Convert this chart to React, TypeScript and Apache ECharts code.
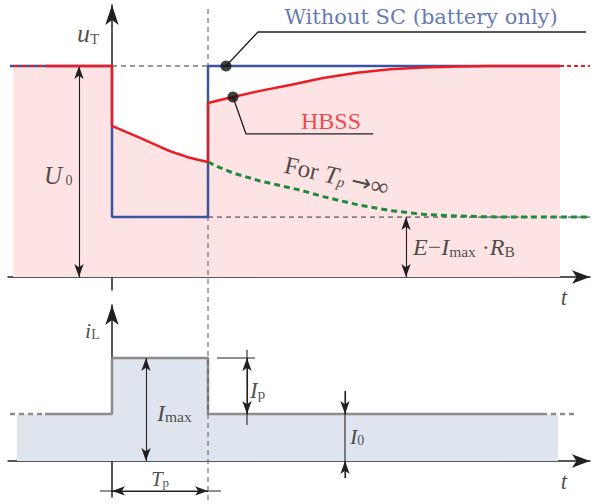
import React, { useEffect, useRef } from "react";
import * as echarts from "echarts";

// Axis extents (time in units of the pulse length Tp, voltage in U0, current in Imax)
const X_MIN = -1.0833;
const X_MAX = 4.979;
const U_MIN = -0.0616;
const U_MAX = 1.289;
const I_MIN = -0.35;
const I_MAX_AXIS = 1.515;

// Terminal voltage, battery only
const BLUE_DASH: number[][] = [[-1.0625, 1], [-0.698, 1]];
const BLUE_SOLID: number[][] = [[-0.698, 1], [0, 1], [0, 0.284], [1, 0.284], [1, 1], [4.667, 1]];

// Terminal voltage, hybrid battery / supercapacitor system
const RED_DASH_L: number[][] = [[-1.0625, 1], [-0.698, 1]];
const RED_DASH_R: number[][] = [[4.667, 1], [4.979, 1]];
const RED_SOLID: number[][] = [
  [-0.698, 1], [0, 1], [0, 0.716], [0.146, 0.688], [0.292, 0.659], [0.438, 0.630], [0.573, 0.602],
  [0.677, 0.585], [0.781, 0.569], [0.896, 0.556], [1, 0.545], [1, 0.825], [1.125, 0.839],
  [1.26, 0.853], [1.542, 0.882], [1.854, 0.91], [2.198, 0.943], [2.552, 0.968], [2.896, 0.984],
  [3.24, 0.993], [3.594, 0.998], [3.9375, 1], [4.667, 1],
];
const RED_FILL: number[][] = [[-1.03, 1], ...RED_SOLID.slice(1)];

// Continuation of the discharge for an infinitely long pulse
const GREEN_DASH: number[][] = [
  [1, 0.545], [1.125, 0.518], [1.26, 0.493], [1.542, 0.455], [1.958, 0.412], [2.198, 0.381],
  [2.552, 0.343], [2.896, 0.315], [3.24, 0.297], [3.594, 0.289], [3.9375, 0.285], [4.979, 0.284],
];

// Guide lines
const GUIDE_U0: number[][] = [[0, 1], [1, 1]];
const GUIDE_ELOW: number[][] = [[1, 0.284], [4.979, 0.284]];
const GUIDE_TP: number[][] = [[1, 1.27], [1, -1.076]];

// Callout leaders
const LEADER_BLUE: number[][] = [[1.1875, 1], [1.52, 1.161], [4.94, 1.161]];
const LEADER_RED: number[][] = [[1.26, 0.853], [1.396, 0.678], [2.72, 0.678]];
const LEADER_DOTS: number[][] = [[1.1875, 1], [1.26, 0.853]];

// Load current
const I_DASH_L: number[][] = [[-1.0625, 0.456], [-0.698, 0.456]];
const I_SOLID: number[][] = [[-0.698, 0.456], [0, 0.456], [0, 1], [1, 1], [1, 0.456], [4.479, 0.456]];
const I_DASH_R: number[][] = [[4.479, 0.456], [4.854, 0.456]];
const I_FILL: number[][] = [[-0.99, 0.456], [0, 0.456], [0, 1], [1, 1], [1, 0.456], [4.646, 0.456]];

// Dimension marks
const IP_TICK: number[][] = [[1.094, 1], [1.49, 1]];
const IP_STEM: number[][] = [[1.406, 1.08], [1.406, 0.35]];
const I0_STEM: number[][] = [[2.427, 0.68], [2.427, -0.165]];
const TP_STEM: number[][] = [[-0.125, -0.291], [1.135, -0.291]];

const SERIF = "Liberation Serif";
const INK = "#231f20";
const BLUE = "#3a54a4";
const RED = "#ec1c24";
const GREEN = "#1d8a3e";
const GRAY = "#8c8c8c";

type Dim = { from: number[]; to: number[]; both: boolean };
const DIMS_TOP: Dim[] = [
  { from: [-0.344, 0], to: [-0.344, 1], both: true },
  { from: [3.0625, 0], to: [3.0625, 0.284], both: true },
];
const DIMS_BOTTOM: Dim[] = [
  { from: [0.354, 0], to: [0.354, 1], both: true },
  { from: [1.406, 0.456], to: [1.406, 1], both: true },
  { from: [2.427, 0.68], to: [2.427, 0.456], both: false },
  { from: [2.427, -0.165], to: [2.427, 0], both: false },
  { from: [0, -0.291], to: [1, -0.291], both: true },
];

type Label = {
  at: number[];
  text: string;
  rich: Record<string, any>;
  align?: string;
  color?: string;
  rotate?: number;
};

const tok = (s: number, italic: boolean, family = SERIF) => ({
  fontFamily: family,
  fontStyle: italic ? "italic" : "normal",
  fontSize: s,
  lineHeight: s,
  verticalAlign: "bottom",
});
const it = (s: number) => tok(s, true);
const up = (s: number) => tok(s, false);

const LABELS_TOP: Label[] = [
  { at: [-0.365, 1.156], text: "{a|u}{b|T}", rich: { a: it(26), b: up(15) } },
  { at: [-0.708, 0.483], text: "{a|U}{b| 0}", rich: { a: it(25), b: up(14) } },
  { at: [3.135, 0.142], text: "{a|E}{m|−}{a|I}{b|max}{m| ·}{a|R}{b|B}", rich: { a: it(24), m: up(24), b: up(15.5) } },
  { at: [3.219, 1.232], text: "{a|Without SC (battery only)}", rich: { a: tok(21, false, "DejaVu Serif") }, align: "center", color: BLUE },
  { at: [2.281, 0.739], text: "{a|HBSS}", rich: { a: up(24) }, align: "center", color: RED },
  {
    at: [1.8, 0.535],
    text: "{a|For }{b|T}{c|p}{a| }{r|→}{a|∞}",
    rich: { a: up(25), b: it(25), c: it(15), r: tok(24, false, "DejaVu Sans") },
    rotate: -13,
  },
  { at: [4.708, -0.0995], text: "{a|t}", rich: { a: it(23) }, align: "center" },
];
const LABELS_BOTTOM: Label[] = [
  { at: [-0.281, 1.272], text: "{a|i}{b|L}", rich: { a: it(22), b: up(14) } },
  { at: [0.469, 0.466], text: "{a|I}{b|max}", rich: { a: it(24), b: up(15.5) } },
  { at: [1.4375, 0.689], text: "{a|I}{b|p}", rich: { a: it(23), b: up(15) } },
  { at: [2.479, 0.233], text: "{a|I}{b|0}", rich: { a: it(22), b: up(14) } },
  { at: [0.5, -0.175], text: "{a|T}{b|p}", rich: { a: it(21), b: up(13) }, align: "center" },
  { at: [4.708, -0.204], text: "{a|t}", rich: { a: it(23) }, align: "center" },
];

const labelSeries = (grid: number, labels: Label[]) => ({
  type: "scatter",
  xAxisIndex: grid,
  yAxisIndex: grid,
  symbolSize: 0,
  silent: true,
  clip: false,
  z: 20,
  data: labels.map((l) => ({
    value: l.at,
    label: {
      show: true,
      position: [0, 0],
      formatter: l.text,
      rich: l.rich,
      color: l.color || INK,
      align: l.align || "left",
      verticalAlign: "middle",
      rotate: l.rotate || 0,
      fontFamily: SERIF,
      fontSize: 20,
    },
  })),
});

const axisLine = (w: number, h: number) => ({
  show: true,
  onZero: true,
  symbol: ["none", "arrow"],
  symbolSize: [w, h],
  lineStyle: { color: INK, width: 1.5 },
});

const xAxisBase = {
  type: "value" as const,
  min: X_MIN,
  max: X_MAX,
  axisTick: { show: false },
  axisLabel: { show: false },
  splitLine: { show: false },
};

const lineSeries = (
  name: string,
  grid: number,
  data: number[][],
  color: string,
  width: number,
  type: any = "solid",
  z = 2,
  extra: Record<string, any> = {}
) => ({
  name,
  type: "line",
  xAxisIndex: grid,
  yAxisIndex: grid,
  data,
  symbol: "none",
  clip: false,
  silent: true,
  z,
  lineStyle: { color, width, type },
  ...extra,
});

const dimMarks = (dims: Dim[]) => ({
  silent: true,
  symbolSize: [7, 13],
  label: { show: false },
  lineStyle: { color: INK, width: 1.1, type: "solid" },
  emphasis: { disabled: true },
  data: dims.map((d) => [
    { coord: d.from, symbol: d.both ? "arrow" : "none" },
    { coord: d.to, symbol: "arrow" },
  ]),
});

export default function App() {
  const ref = useRef<HTMLDivElement>(null);

  useEffect(() => {
    if (!ref.current) return;
    const chart = echarts.init(ref.current, null, { renderer: "svg" });

    chart.setOption({
      animation: false,
      grid: [
        { left: 8, right: 4, top: 5, bottom: 214 },
        { left: 8, right: 4, top: 305, bottom: 7 },
      ],
      xAxis: [
        { ...xAxisBase, gridIndex: 0, axisLine: axisLine(10, 18) },
        { ...xAxisBase, gridIndex: 1, axisLine: axisLine(10, 18) },
      ],
      yAxis: [
        {
          type: "value", gridIndex: 0, min: U_MIN, max: U_MAX,
          axisLine: axisLine(10, 20), axisTick: { show: false }, axisLabel: { show: false }, splitLine: { show: false },
        },
        {
          type: "value", gridIndex: 1, min: I_MIN, max: I_MAX_AXIS,
          axisLine: axisLine(10, 20), axisTick: { show: false }, axisLabel: { show: false }, splitLine: { show: false },
        },
      ],
      series: [
        // upper panel: terminal voltage
        lineSeries("fillU", 0, RED_FILL, "transparent", 0, "solid", 1, {
          areaStyle: { color: "#fde3e3", opacity: 1 },
        }),
        lineSeries("guideU0", 0, GUIDE_U0, "#333", 1, [5, 4], 2),
        lineSeries("guideElow", 0, GUIDE_ELOW, "#333", 1, [5, 4], 2, { markLine: dimMarks(DIMS_TOP) }),
        lineSeries("blueDash", 0, BLUE_DASH, BLUE, 2.5, [4, 4], 3),
        lineSeries("redDashL", 0, RED_DASH_L, RED, 2.5, [4, 4], 3, { lineStyle: { color: RED, width: 2.5, type: [4, 4], dashOffset: 4 } }),
        lineSeries("redDashR", 0, RED_DASH_R, RED, 2, [4, 3], 3),
        lineSeries("battery", 0, BLUE_SOLID, BLUE, 2.5, "solid", 4),
        lineSeries("infinite", 0, GREEN_DASH, GREEN, 3, [6, 4], 4),
        lineSeries("hbss", 0, RED_SOLID, RED, 2.5, "solid", 5),
        lineSeries("leaderBlue", 0, LEADER_BLUE, INK, 1.3, "solid", 6),
        lineSeries("leaderRed", 0, LEADER_RED, INK, 1.3, "solid", 6),
        {
          name: "dots", type: "scatter", xAxisIndex: 0, yAxisIndex: 0, data: LEADER_DOTS,
          symbolSize: 11, itemStyle: { color: "#111" }, silent: true, z: 7,
        },
        // lower panel: load current
        lineSeries("fillI", 1, I_FILL, "transparent", 0, "solid", 1, {
          areaStyle: { color: "#dfe5ef", opacity: 1 },
        }),
        lineSeries("iDashL", 1, I_DASH_L, GRAY, 2.5, [5, 4], 3),
        lineSeries("iL", 1, I_SOLID, GRAY, 2.5, "solid", 3),
        lineSeries("iDashR", 1, I_DASH_R, GRAY, 2.5, [5, 4], 3),
        lineSeries("ipTick", 1, IP_TICK, INK, 1, "solid", 4),
        lineSeries("ipStem", 1, IP_STEM, INK, 1.1, "solid", 4),
        lineSeries("i0Stem", 1, I0_STEM, INK, 1.1, "solid", 4),
        lineSeries("tpStem", 1, TP_STEM, INK, 1.1, "solid", 4, { markLine: dimMarks(DIMS_BOTTOM) }),
        // pulse end marker spanning both panels
        lineSeries("tpGuide", 0, GUIDE_TP, "#555", 1, [5, 4], 8),
        // annotations
        labelSeries(0, LABELS_TOP),
        labelSeries(1, LABELS_BOTTOM),
      ],
    });

    return () => chart.dispose();
  }, []);

  return (
    <div
      ref={ref}
      style={{ position: "absolute", left: 0, top: 0, width: 594, height: 504, background: "#fff" }}
    />
  );
}
